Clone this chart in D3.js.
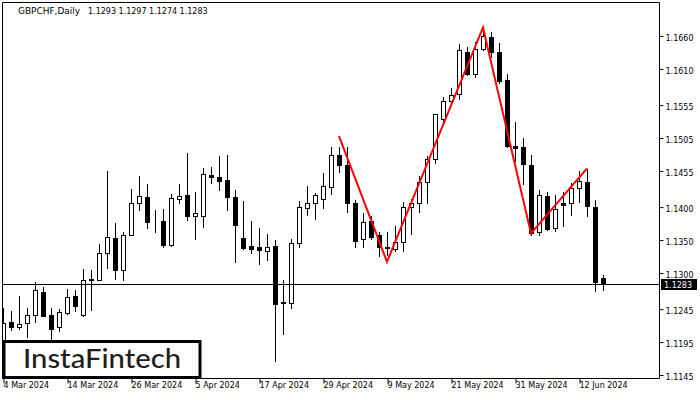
<!DOCTYPE html>
<html>
<head>
<meta charset="utf-8">
<script src="https://cdn.jsdelivr.net/npm/d3@7"></script>
<style>
html,body{margin:0;padding:0;background:#fff;}
svg{display:block;}
text{font-family:"DejaVu Sans",sans-serif;}
</style>
</head>
<body>
<svg id="chart" width="700" height="400"></svg>
<script>
const dates = [
"2024-03-04","2024-03-05","2024-03-06","2024-03-07","2024-03-08","2024-03-11","2024-03-12","2024-03-13","2024-03-14","2024-03-15",
"2024-03-18","2024-03-19","2024-03-20","2024-03-21","2024-03-22","2024-03-25","2024-03-26","2024-03-27","2024-03-28","2024-03-29",
"2024-04-01","2024-04-02","2024-04-03","2024-04-04","2024-04-05","2024-04-08","2024-04-09","2024-04-10","2024-04-11","2024-04-12",
"2024-04-15","2024-04-16","2024-04-17","2024-04-18","2024-04-19","2024-04-22","2024-04-23","2024-04-24","2024-04-25","2024-04-26",
"2024-04-29","2024-04-30","2024-05-01","2024-05-02","2024-05-03","2024-05-06","2024-05-07","2024-05-08","2024-05-09","2024-05-10",
"2024-05-13","2024-05-14","2024-05-15","2024-05-16","2024-05-17","2024-05-20","2024-05-21","2024-05-22","2024-05-23","2024-05-24",
"2024-05-27","2024-05-28","2024-05-29","2024-05-30","2024-05-31","2024-06-03","2024-06-04","2024-06-05","2024-06-06","2024-06-07",
"2024-06-10","2024-06-11","2024-06-12","2024-06-13","2024-06-14","2024-06-17"];

const open = [
1.1191,1.1225,1.1218,1.1224,1.1236,1.1271,1.1236,1.1218,1.1239,1.1265,
1.1236,1.1291,1.1290,1.1330,1.1353,1.1304,1.1358,1.1406,1.1415,1.1378,
1.1379,1.1343,1.1413,1.1418,1.1387,1.1386,1.1449,1.1446,1.1441,1.1415,
1.1353,1.1341,1.1339,1.1334,1.1341,1.1256,1.1255,1.1346,1.1398,1.1407,
1.1412,1.1430,1.1479,1.1464,1.1406,1.1351,1.1379,1.1358,1.1340,1.1337,
1.1347,1.1400,1.1406,1.1438,1.1473,1.1534,1.1562,1.1572,1.1636,1.1603,
1.1640,1.1658,1.1635,1.1593,1.1493,1.1492,1.1464,1.1362,1.1417,1.1369,
1.1407,1.1406,1.1429,1.1438,1.1400,1.1293];
const high = [
1.1247,1.1242,1.1265,1.1247,1.1287,1.1279,1.1247,1.1246,1.1275,1.1274,
1.1306,1.1304,1.1344,1.1455,1.1376,1.1362,1.1428,1.1447,1.1435,1.1396,
1.1397,1.1420,1.1435,1.1482,1.1423,1.1459,1.1461,1.1478,1.1479,1.1426,
1.1409,1.1379,1.1368,1.1359,1.1350,1.1290,1.1352,1.1410,1.1432,1.1422,
1.1452,1.1491,1.1491,1.1491,1.1411,1.1391,1.1386,1.1362,1.1362,1.1371,
1.1408,1.1413,1.1447,1.1478,1.1542,1.1568,1.1581,1.1648,1.1643,1.1651,
1.1669,1.1666,1.1650,1.1603,1.1529,1.1505,1.1479,1.1426,1.1423,1.1419,
1.1423,1.1436,1.1455,1.1458,1.1411,1.1297];
const low = [
1.1183,1.1213,1.1215,1.1203,1.1225,1.1234,1.1197,1.1212,1.1238,1.1242,
1.1235,1.1244,1.1289,1.1308,1.1291,1.1289,1.1357,1.1395,1.1368,1.1362,
1.1340,1.1341,1.1406,1.1381,1.1352,1.1370,1.1437,1.1426,1.1396,1.1317,
1.1336,1.1331,1.1314,1.1320,1.1167,1.1208,1.1247,1.1340,1.1388,1.1382,
1.1399,1.1420,1.1454,1.1393,1.1340,1.1340,1.1351,1.1326,1.1327,1.1333,
1.1333,1.1359,1.1392,1.1406,1.1467,1.1527,1.1558,1.1565,1.1600,1.1598,
1.1638,1.1628,1.1588,1.1492,1.1470,1.1435,1.1358,1.1358,1.1366,1.1364,
1.1372,1.1388,1.1408,1.1386,1.1272,1.1274];
const close = [
1.1224,1.1218,1.1223,1.1236,1.1274,1.1235,1.1215,1.1240,1.1263,1.1250,
1.1289,1.1289,1.1330,1.1354,1.1305,1.1357,1.1406,1.1417,1.1378,1.1377,
1.1343,1.1414,1.1417,1.1387,1.1391,1.1450,1.1446,1.1440,1.1416,1.1373,
1.1338,1.1336,1.1335,1.1339,1.1253,1.1255,1.1345,1.1400,1.1407,1.1418,
1.1432,1.1479,1.1464,1.1406,1.1348,1.1377,1.1355,1.1340,1.1338,1.1347,
1.1400,1.1407,1.1438,1.1473,1.1541,1.1562,1.1570,1.1638,1.1603,1.1641,
1.1660,1.1635,1.1591,1.1493,1.1490,1.1465,1.1360,1.1418,1.1367,1.1397,
1.1404,1.1429,1.1439,1.1401,1.1286,1.1283];

const priceTicks = [1.1660,1.1610,1.1555,1.1505,1.1455,1.1400,1.1350,1.1300,1.1245,1.1195,1.1145];
const dateTicks = ["2024-03-04","2024-03-14","2024-03-26","2024-04-05","2024-04-17","2024-04-29","2024-05-09","2024-05-21","2024-05-31","2024-06-12"];

const patternDates = ["2024-05-01","2024-05-09","2024-05-27","2024-06-04","2024-06-13"];
const patternPrices = [1.1508,1.1317,1.1673,1.1360,1.1459];

const symbolLabel = "GBPCHF,Daily";
const ohlcLabel = "1.1293 1.1297 1.1274 1.1283";
const lastPrice = 1.1283;
const logoText = "InstaFintech";

// ---- layout ----
const L = 2.5, R = 659.5, T = 2.5, B = 378.5;
const svg = d3.select("#chart");

const x = d3.scalePoint().domain(dates).range([3, 603]);
const y = d3.scaleLinear().domain([1.113892, 1.171165]).range([379, 2]);

svg.append("rect").attr("width",700).attr("height",400).attr("fill","#fff");

svg.append("defs").append("clipPath").attr("id","plotclip")
  .append("rect").attr("x",L+0.5).attr("y",T+0.5).attr("width",R-L-1).attr("height",B-T-1);

const plot = svg.append("g").attr("clip-path","url(#plotclip)");

const candles = dates.map((d,i)=>({d, o:open[i], h:high[i], l:low[i], c:close[i]}));

// wicks
plot.selectAll("line.wick").data(candles).enter().append("line")
  .attr("class","wick")
  .attr("x1",d=>Math.round(x(d.d))+0.5).attr("x2",d=>Math.round(x(d.d))+0.5)
  .attr("y1",d=>Math.round(y(d.h))).attr("y2",d=>Math.round(y(d.l))+1)
  .attr("stroke","#000").attr("stroke-width",1);

// bodies
plot.selectAll("rect.body").data(candles).enter().append("rect")
  .attr("class","body")
  .attr("x",d=>Math.round(x(d.d))-1.5)
  .attr("width",4)
  .attr("y",d=>Math.round(y(Math.max(d.o,d.c)))+0.5)
  .attr("height",d=>Math.max(0,Math.round(y(Math.min(d.o,d.c)))-Math.round(y(Math.max(d.o,d.c)))))
  .attr("fill",d=>d.c>=d.o?"#fff":"#000")
  .attr("stroke","#000").attr("stroke-width",1);

// current price line
plot.append("line")
  .attr("x1",L).attr("x2",R)
  .attr("y1",Math.round(y(lastPrice))+0.5).attr("y2",Math.round(y(lastPrice))+0.5)
  .attr("stroke","#000").attr("stroke-width",1);

// pattern lines
const pts = patternDates.map((d,i)=>[x(d), y(patternPrices[i])]);
plot.append("path")
  .attr("d", d3.line()(pts))
  .attr("fill","none").attr("stroke","#ff0000").attr("stroke-width",2)
  .attr("stroke-linejoin","miter");

// logo box
svg.append("rect").attr("x",4).attr("y",341.5).attr("width",196).attr("height",36)
  .attr("fill","#fff").attr("stroke","#000").attr("stroke-width",3);
svg.append("text").attr("x",23).attr("y",368)
  .attr("textLength",158).attr("lengthAdjust","spacingAndGlyphs")
  .style("font-family","Lato, 'Open Sans', sans-serif").style("font-size","26px").style("font-weight","500")
  .attr("fill","#1e1e1e").text(logoText);

// frame
svg.append("path")
  .attr("d",`M${L},${T}H${R}V${B}`)
  .attr("fill","none").attr("stroke","#000").attr("stroke-width",1);
svg.append("path")
  .attr("d",`M${L},${T}V${B}H${R}`)
  .attr("fill","none").attr("stroke","#000").attr("stroke-width",1);

// right axis
const yAxis = d3.axisRight(y).tickValues(priceTicks).tickSize(4).tickPadding(2)
  .tickFormat(d3.format(".4f"));
const ya = svg.append("g").attr("transform",`translate(${R},0)`).call(yAxis);
ya.select(".domain").remove();
ya.selectAll(".tick line").attr("stroke","#000");
ya.selectAll(".tick text").attr("fill","#000").style("font-size","8px")
  .style("font-family","'DejaVu Sans', sans-serif").attr("dy",null).attr("y",4.5).attr("x",6);

// bottom axis
const parse = d3.timeParse("%Y-%m-%d");
const fmt = d3.timeFormat("%-d %b %Y");
const xAxis = d3.axisBottom(x).tickValues(dateTicks).tickSize(5).tickPadding(3)
  .tickFormat(d=>fmt(parse(d)));
const xa = svg.append("g").attr("transform",`translate(0,${B})`).call(xAxis);
xa.select(".domain").remove();
xa.selectAll(".tick line").attr("stroke","#000").attr("transform","translate(0.5,0)");
xa.selectAll(".tick text").attr("fill","#000").style("font-size","8px")
  .style("font-family","'DejaVu Sans', sans-serif").attr("text-anchor","start").attr("dy","0.2em").attr("y",8).attr("x",0);

// last price label
const yl = Math.round(y(lastPrice));
svg.append("rect").attr("x",661).attr("y",yl-5).attr("width",36).attr("height",11).attr("fill","#000");
svg.append("text").attr("x",664).attr("y",yl+4).attr("fill","#fff")
  .style("font-size","8px").text(d3.format(".4f")(lastPrice));

// title
svg.append("text").attr("x",18).attr("y",14).attr("fill","#000").style("font-size","8px")
  .attr("textLength",62).attr("lengthAdjust","spacingAndGlyphs").text(symbolLabel);
svg.append("text").attr("x",88).attr("y",14).attr("fill","#000").style("font-size","8px").text(ohlcLabel);
</script>
</body>
</html>
